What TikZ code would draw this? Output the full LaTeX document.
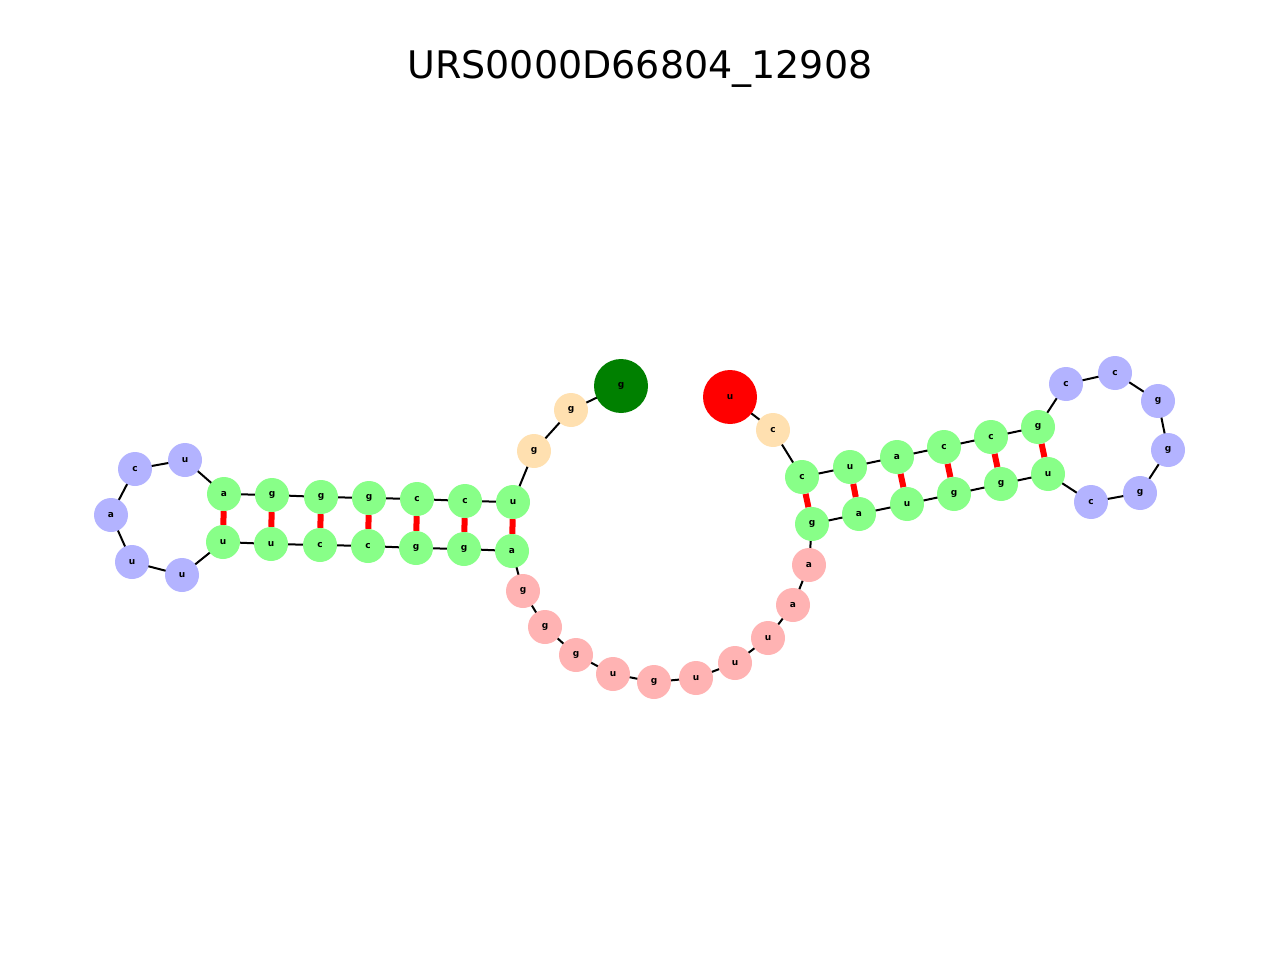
\documentclass[tikz,border=0pt]{standalone}
\usepackage{fontspec}
\setmainfont{DejaVu Sans}
\usetikzlibrary{backgrounds}
\definecolor{stem}{HTML}{88FF88}
\definecolor{loop}{HTML}{B3B3FF}
\definecolor{ext}{HTML}{FFB3B3}
\definecolor{dang}{HTML}{FFE0B0}
\begin{document}
\begin{tikzpicture}[x=1pt,y=-1pt,
  nt/.style={circle,inner sep=0pt,minimum size=34pt,font=\fontsize{9}{9}\selectfont\bfseries},
  bb/.style={black,line width=2pt},
  bp/.style={red,line width=6pt}]
\useasboundingbox (0,0) rectangle (1280,960);
\node[font=\fontsize{38}{42}\selectfont] (title) at (640,69) {URS0000D66804\_12908};
\foreach \i/\x/\y/\l/\c in {
1/621/386/g/green!50!black, 2/571/410/g/dang, 3/534/451/g/dang, 4/513/502/u/stem, 5/465/501/c/stem,
6/417/499/c/stem, 7/369/498/g/stem, 8/321/497/g/stem, 9/272/495/g/stem, 10/224/494/a/stem,
11/185/460/u/loop, 12/135/469/c/loop, 13/111/515/a/loop, 14/132/562/u/loop, 15/182/575/u/loop,
16/223/542/u/stem, 17/271/544/u/stem, 18/320/545/c/stem, 19/368/546/c/stem, 20/416/548/g/stem,
21/464/549/g/stem, 22/512/551/a/stem, 23/523/591/g/ext, 24/545/627/g/ext, 25/576/655/g/ext,
26/613/674/u/ext, 27/654/682/g/ext, 28/696/678/u/ext, 29/735/663/u/ext, 30/768/638/u/ext,
31/793/605/a/ext, 32/809/565/a/ext, 33/812/524/g/stem, 34/859/514/a/stem, 35/907/504/u/stem,
36/954/494/g/stem, 37/1001/484/g/stem, 38/1048/474/u/stem, 39/1091/502/c/loop, 40/1140/493/g/loop,
41/1168/450/g/loop, 42/1158/401/g/loop, 43/1115/373/c/loop, 44/1066/384/c/loop, 45/1038/427/g/stem,
46/991/437/c/stem, 47/944/447/c/stem, 48/897/457/a/stem, 49/850/467/u/stem, 50/802/477/c/stem,
51/773/430/c/dang, 52/730/397/u/red}{
  \ifnum\i=1 \node[nt,fill=\c,minimum size=54pt] (n\i) at (\x,\y) {\l};
  \else\ifnum\i=52 \node[nt,fill=\c,minimum size=54pt] (n\i) at (\x,\y) {\l};
  \else \node[nt,fill=\c] (n\i) at (\x,\y) {\l};\fi\fi
}
\begin{pgfonlayer}{background}
\foreach \i [evaluate=\i as \j using int(\i+1)] in {1,...,51}{\draw[bb] (n\i.center) -- (n\j.center);}
\foreach \a/\b in {4/22,5/21,6/20,7/19,8/18,9/17,10/16,33/50,34/49,35/48,36/47,37/46,38/45}{\draw[bp] (n\a) -- (n\b);}
\end{pgfonlayer}
\end{tikzpicture}
\end{document}
